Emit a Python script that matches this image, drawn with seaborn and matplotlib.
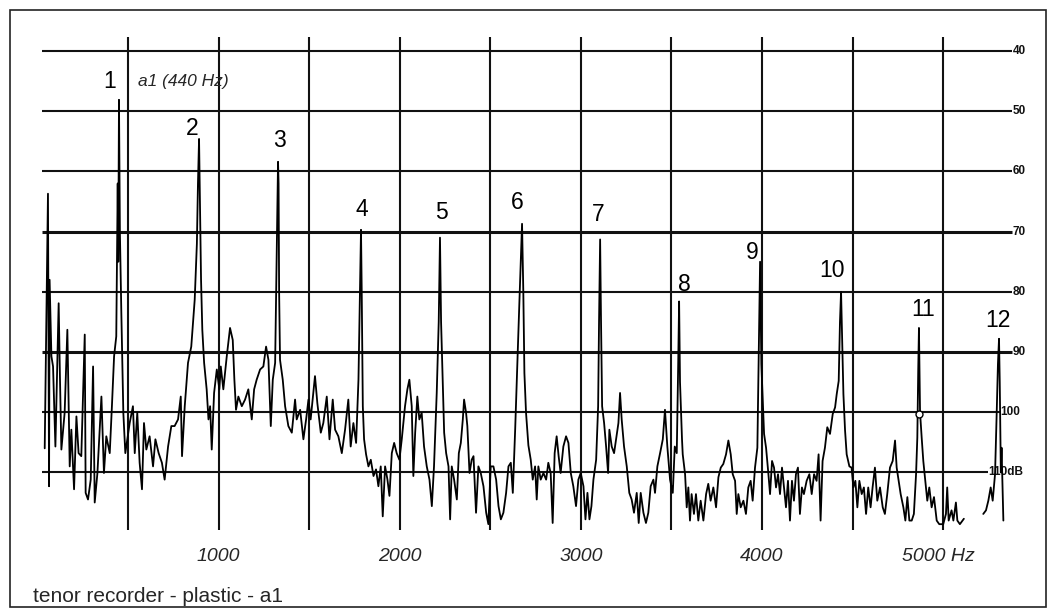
import numpy as np
import pandas as pd
import matplotlib
matplotlib.use("Agg")
import matplotlib.pyplot as plt
from matplotlib.patches import Rectangle
import seaborn as sns

# ---------------- data ----------------
freq_hz = [
    40, 58, 64, 67, 77, 86, 99, 117, 124, 132, 150, 165, 178, 187, 202, 215, 227, 242, 261, 266,
    279, 294, 307, 316, 331, 353, 367, 380, 399, 411, 423, 435, 443, 446, 450, 455, 463, 474, 485, 509,
    527, 537, 551, 564, 577, 588, 601, 619, 638, 651, 669, 687, 702, 721, 739, 757, 776, 791, 798, 813,
    831, 849, 868, 880, 886, 892, 897, 903, 910, 920, 934, 944, 953, 962, 975, 990, 1004, 1012, 1026, 1045,
    1063, 1078, 1087, 1096, 1109, 1128, 1146, 1164, 1183, 1196, 1210, 1229, 1247, 1262, 1275, 1288, 1299, 1312, 1320, 1326,
    1328, 1331, 1334, 1339, 1354, 1367, 1385, 1404, 1422, 1431, 1450, 1468, 1483, 1496, 1508, 1532, 1545, 1564, 1578, 1597,
    1612, 1630, 1643, 1661, 1680, 1698, 1716, 1729, 1744, 1759, 1772, 1780, 1786, 1790, 1796, 1803, 1814, 1827, 1840, 1855,
    1869, 1882, 1895, 1906, 1919, 1932, 1943, 1956, 1969, 1983, 1998, 2011, 2020, 2029, 2042, 2053, 2066, 2075, 2085, 2097,
    2108, 2121, 2134, 2149, 2164, 2177, 2189, 2204, 2215, 2222, 2228, 2237, 2245, 2256, 2269, 2278, 2287, 2300, 2315, 2326,
    2337, 2348, 2355, 2366, 2373, 2385, 2397, 2407, 2421, 2434, 2447, 2462, 2477, 2489, 2502, 2517, 2532, 2545, 2558, 2572,
    2587, 2600, 2613, 2624, 2637, 2646, 2660, 2675, 2682, 2688, 2697, 2710, 2723, 2734, 2747, 2756, 2765, 2778, 2793, 2808,
    2820, 2833, 2844, 2855, 2866, 2877, 2888, 2903, 2918, 2931, 2944, 2958, 2973, 2986, 2999, 3014, 3025, 3036, 3047, 3058,
    3069, 3084, 3095, 3100, 3106, 3111, 3117, 3128, 3139, 3150, 3157, 3170, 3183, 3194, 3207, 3216, 3225, 3238, 3253, 3267,
    3280, 3293, 3308, 3319, 3330, 3345, 3359, 3372, 3385, 3400, 3409, 3422, 3437, 3452, 3464, 3477, 3492, 3507, 3518, 3529,
    3537, 3542, 3547, 3558, 3562, 3575, 3584, 3593, 3602, 3611, 3624, 3635, 3648, 3661, 3676, 3691, 3703, 3716, 3731, 3746,
    3759, 3772, 3786, 3801, 3814, 3827, 3838, 3851, 3860, 3869, 3882, 3897, 3911, 3924, 3937, 3948, 3961, 3974, 3982, 3989,
    3996, 4011, 4022, 4035, 4044, 4055, 4066, 4077, 4088, 4099, 4110, 4121, 4132, 4143, 4154, 4165, 4176, 4187, 4198, 4209,
    4220, 4231, 4246, 4261, 4274, 4287, 4301, 4312, 4323, 4334, 4347, 4360, 4375, 4390, 4403, 4412, 4423, 4430, 4436, 4442,
    4449, 4458, 4467, 4482, 4494, 4504, 4515, 4526, 4537, 4550, 4562, 4574, 4586, 4599, 4610, 4623, 4636, 4651, 4666, 4678,
    4691, 4706, 4721, 4734, 4743, 4754, 4765, 4780, 4791, 4802, 4813, 4826, 4838, 4850, 4857, 4862, 4866, 4869, 4872, 4881,
    4890, 4901, 4912, 4923, 4936, 4949, 4964, 4978, 5000, 5015, 5022, 5030, 5046, 5056, 5070, 5078, 5092, 5114,
    5221, 5236, 5249, 5262, 5273, 5286, 5295, 5302, 5308, 5312, 5318, 5322, 5332,
]
level_db = [
    106, 63.7, 112.3, 78, 90.7, 92.4, 105.7, 81.9, 94, 106.2, 100.1, 86.3, 109, 102.9, 112.8, 100.7, 106.8, 107.3, 87.1, 113.4,
    114.5, 111.2, 92.4, 115, 110.1, 97.4, 110.1, 104, 106.8, 99, 90.7, 87.4, 62, 75, 48.1, 70, 83.5, 100.1, 106.8, 101.8,
    99, 106.8, 100.1, 108.4, 112.8, 101.8, 106.2, 104, 109, 104.5, 106.8, 108.4, 111.2, 105.7, 102.3, 102.3, 101.2, 97.4, 107.3, 99,
    91.8, 89.1, 81.3, 72, 62, 54.6, 65, 78, 86.3, 91.8, 96.2, 101.2, 99, 106.2, 96.8, 92.9, 96.2, 92.4, 96.2, 90.7,
    86, 88, 94.6, 99.6, 97.4, 99, 97.9, 96.2, 101.2, 96.2, 94.6, 92.9, 92.4, 89.1, 91.3, 102.3, 94.6, 91.8, 75, 62,
    58.4, 62, 80, 91.3, 94.6, 99, 102.3, 103.4, 97.9, 101.2, 99.6, 104.5, 101.2, 97.9, 101.2, 94, 98.5, 103.4, 101.8, 97.4,
    104.5, 97.9, 102.9, 104, 106.8, 102.9, 97.9, 105.7, 101.8, 105.1, 94.6, 80, 69.7, 80, 99, 104.5, 107, 109, 107.9, 110.6,
    109.5, 112.3, 109, 117.3, 109, 111.2, 113.9, 106.8, 105.1, 106.8, 107.9, 104.5, 101.8, 99, 96.2, 94.6, 99, 110.6, 103.4, 97.4,
    101.2, 100.1, 105.7, 109, 111.2, 115.6, 109, 96.8, 85, 71, 85, 94.6, 103.4, 106.8, 109, 117.8, 109, 111.2, 114.5, 106.8,
    105.1, 101.2, 97.9, 100.1, 102.3, 110.1, 107.9, 107.3, 116.7, 109, 110.1, 112.3, 116.7, 118.9, 109, 109, 111.2, 115.6, 117.8, 116.7,
    113.4, 109, 108.4, 113.4, 102.9, 94.6, 82, 68.7, 80, 93.5, 100.1, 105.5, 107.9, 111.2, 109, 114.5, 109, 111.2, 110.1, 111.2,
    108.4, 110.1, 118.4, 106.8, 104, 107.3, 110.1, 105.7, 104, 105.1, 110.1, 112.3, 115.6, 111.2, 110.1, 112.3, 117.8, 113.4, 117.8, 115.6,
    111.2, 107.9, 99, 85, 71.3, 85, 99, 101.8, 105.7, 110.1, 102.9, 105.7, 106.8, 104.5, 101.8, 96.8, 101.2, 105.7, 109, 113.4,
    114.5, 116.7, 113.4, 118.4, 113.4, 116.7, 118.4, 116.7, 112.3, 111.2, 113.4, 109, 106.8, 104.5, 99.6, 105.7, 111.2, 113.4, 105.7, 106.8,
    92, 81.6, 95, 104.5, 107, 110.3, 115.8, 112.5, 118, 113.6, 116.9, 113.6, 118, 114.7, 118, 113.6, 111.9, 114.7, 112.5, 115.8,
    110.8, 109.2, 108.6, 107, 104.7, 107, 110.3, 111.4, 116.9, 113.6, 115.8, 114.7, 116.9, 112.5, 111.4, 114.7, 109.2, 105.9, 90, 75,
    92, 103.6, 105.9, 110.3, 113.6, 108.1, 109.2, 112.5, 110.3, 113.6, 109.2, 112.5, 115.8, 111.4, 118, 111.4, 114.7, 110.3, 109.2, 116.9,
    112.5, 113.6, 111.4, 110.3, 113.6, 110.3, 111.4, 107, 118, 108.1, 105.9, 102.5, 103.6, 100.3, 99.2, 97, 94.8, 85, 80, 88,
    97, 103, 107, 109, 109.2, 112.5, 111.4, 115.8, 111.4, 113.6, 112.5, 116.9, 112.5, 115.8, 112.5, 109.2, 114.7, 112.5, 115.8, 116.9,
    113.6, 109.2, 108.1, 104.7, 109.2, 111.4, 113.6, 115.8, 118, 114.1, 118, 118, 116.9, 110.3, 104.2, 93, 86, 93, 100, 104.2,
    108.1, 111.4, 114.7, 112.5, 115.8, 114.1, 118, 118.6, 118.6, 116.9, 112.5, 118, 116.3, 118, 115, 118, 118.6, 117.7,
    116.9, 116.3, 114.7, 112.5, 114.7, 110.3, 100.3, 92, 87.8, 95, 110, 105.9, 118,
]

harmonic_labels = ["1", "2", "3", "4", "5", "6", "7", "8", "9", "10", "11", "12"]
x_tick_values = [1000, 2000, 3000, 4000]
x_tick_labels = ["1000", "2000", "3000", "4000"]
db_levels = [40, 50, 60, 70, 80, 90, 100, 110]
db_labels = ["40", "50", "60", "70", "80", "90", "100", "110dB"]
grid_freqs = [500, 1000, 1500, 2000, 2500, 3000, 3500, 4000, 4500, 5000]
title_text = "tenor recorder - plastic - a1"
note_text = "a1 (440 Hz)"

# ---------------- figure ----------------
sns.set_style("white")
plt.rcParams["font.family"] = ["Liberation Sans", "DejaVu Sans"]

W, H = 1056, 616
fig = plt.figure(figsize=(W / 100, H / 100), dpi=100)
fig.patch.set_facecolor("white")

# axes placed in pixel space: x 40..1030, y 30..545
ax = fig.add_axes([40 / W, 1 - 545 / H, 990 / W, 515 / H])
ax.set_xlim(14, 5479)
ax.set_ylim(122.06, 36.5)
ax.set_axis_off()

df = pd.DataFrame({"freq": freq_hz, "level": np.minimum(level_db, 118.6)})
df["seg"] = (df["freq"] > 5150).astype(int)

# grid
ink = "#111111"
for f in grid_freqs:
    ax.vlines(f, 37.7, 119.6, color=ink, lw=1.5, zorder=1)
ends = {100: 5314, 110: 5247}
for lv, lab in zip(db_levels, db_labels):
    xe = ends.get(lv, 5380)
    lw = 2.2 if lv in (70, 90) else 1.5
    ax.hlines(lv, 25, xe, color=ink, lw=lw, zorder=1)
    ax.text(xe + 3, lv, lab, fontsize=8.5, fontweight="bold", color=ink,
            ha="left", va="center")

sns.lineplot(data=df, x="freq", y="level", units="seg", estimator=None,
             color="black", lw=1.3, ax=ax, zorder=3, legend=False)

# marker on harmonic 11
ax.plot([4866], [100.3], marker="o", ms=5, mfc="white", mec="black", mew=1.0, zorder=4)

# harmonic numbers
lab_pos = [(401, 45.1), (854, 52.8), (1334, 54.8), (1792, 66.4), (2228, 66.9), (2647, 65.2),
           (3094, 67.1), (3570, 78.7), (3945, 73.4), (4386, 76.4), (4889, 82.9), (5303, 84.7)]
for (px, py), t in zip(lab_pos, harmonic_labels):
    ax.text(px, py, t, fontsize=16.5, ha="center", va="center", color="black", zorder=5)

ax.text(556, 45.1, note_text, fontsize=12.5, style="italic", ha="left", va="center", zorder=5)

# bottom frequency labels
narrow = ["Liberation Sans Narrow", "Liberation Sans", "DejaVu Sans"]
for f, t in zip(x_tick_values, x_tick_labels):
    ax.text(f, 124.05, t, fontsize=14, style="italic", family=narrow,
            ha="center", va="center", clip_on=False)
ax.text(4773, 124.05, "5000 Hz", fontsize=14, style="italic", family=narrow,
        ha="left", va="center", clip_on=False)

fig.text(33 / W, 1 - 597 / H, title_text, fontsize=15, ha="left", va="center")

# outer border of the scanned page
fig.patches.append(Rectangle((10 / W, 1 - 607 / H), 1036 / W, 597 / H,
                             transform=fig.transFigure, fill=False,
                             edgecolor="#222222", lw=1.2))

fig.savefig("out.png", dpi=100, facecolor="white")
